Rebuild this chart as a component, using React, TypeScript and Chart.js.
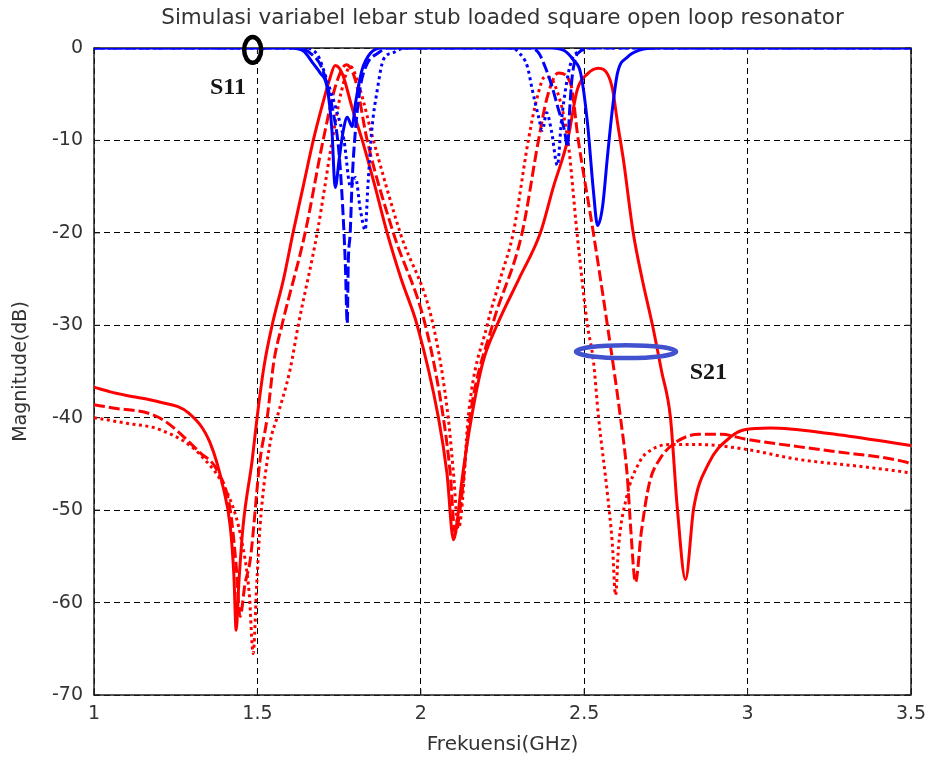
import React, { useEffect, useRef } from 'react';
import { Chart, registerables } from 'chart.js';

Chart.register(...registerables);

// ---------- text ----------
const chartTitle = 'Simulasi variabel lebar stub loaded square open loop resonator';
const xAxisTitle = 'Frekuensi(GHz)';
const yAxisTitle = 'Magnitude(dB)';
const s11Label = 'S11';
const s21Label = 'S21';

// ---------- ticks ----------
const xTickValues = [1, 1.5, 2, 2.5, 3, 3.5];
const yTickValues = [-70, -60, -50, -40, -30, -20, -10, 0];

// ---------- S21 (red) ----------
const s21SolidFreq = [1.0, 1.05, 1.1, 1.2, 1.29, 1.355, 1.395, 1.417, 1.428, 1.435, 1.443, 1.456, 1.484, 1.499, 1.52, 1.545, 1.58, 1.609, 1.64, 1.671, 1.7, 1.72, 1.738, 1.76, 1.79, 1.821, 1.86, 1.897, 1.94, 1.989, 2.054, 2.08, 2.1, 2.112, 2.125, 2.155, 2.19, 2.233, 2.3, 2.366, 2.406, 2.449, 2.479, 2.51, 2.544, 2.571, 2.587, 2.602, 2.62, 2.65, 2.678, 2.709, 2.737, 2.764, 2.785, 2.81, 2.835, 2.88, 2.951, 2.99, 3.07, 3.25, 3.48, 3.5];
const s21SolidDb = [-36.7, -37.2, -37.6, -38.3, -39.5, -42.7, -47.5, -51.8, -57, -63, -58, -51.8, -44.6, -40, -34.5, -30, -25, -20, -15, -10, -6, -3.5, -1.9, -2.8, -6.5, -10, -15, -20, -25, -30, -40, -46, -53.2, -51, -47, -40, -34, -30, -25, -20, -15, -10, -4.5, -2.8, -2.2, -2.8, -4.5, -8.1, -12.1, -20, -25.1, -30, -35, -40, -49.8, -57.5, -49.8, -45, -42, -41.3, -41.1, -41.7, -42.9, -43];

const s21DashedFreq = [1.0, 1.05, 1.2, 1.325, 1.377, 1.417, 1.435, 1.447, 1.462, 1.478, 1.508, 1.53, 1.55, 1.575, 1.646, 1.701, 1.74, 1.772, 1.8, 1.836, 1.916, 2.014, 2.069, 2.09, 2.105, 2.12, 2.15, 2.219, 2.31, 2.36, 2.387, 2.421, 2.458, 2.482, 2.528, 2.571, 2.611, 2.632, 2.642, 2.657, 2.675, 2.7, 2.731, 2.779, 2.85, 2.92, 2.991, 3.254, 3.484, 3.5];
const s21DashedDb = [-38.6, -38.9, -40, -43.8, -45.7, -50, -56, -61.5, -58, -55.4, -44.6, -40, -34, -30, -20, -10, -4, -1.8, -3.5, -10, -20, -30, -40, -46, -52.5, -50, -40, -30, -20, -10, -5.3, -2.7, -3.8, -10, -20, -30, -40, -46.4, -51.8, -57.8, -52.3, -47, -44.5, -42.7, -41.8, -41.8, -42.3, -43.6, -44.8, -45];

const s21DottedFreq = [1.0, 1.1, 1.202, 1.325, 1.417, 1.45, 1.475, 1.487, 1.498, 1.508, 1.539, 1.56, 1.6, 1.625, 1.683, 1.729, 1.755, 1.785, 1.81, 1.855, 1.937, 2.038, 2.084, 2.1, 2.115, 2.125, 2.145, 2.203, 2.243, 2.283, 2.329, 2.355, 2.38, 2.41, 2.45, 2.478, 2.51, 2.528, 2.544, 2.571, 2.586, 2.596, 2.605, 2.629, 2.669, 2.709, 2.761, 2.85, 2.991, 3.153, 3.352, 3.484, 3.5];
const s21DottedDb = [-40, -40.6, -41.3, -44, -48.9, -53, -59, -65.5, -58, -51.8, -42.7, -40, -34.8, -30, -20, -10, -5, -2.0, -4, -10, -20, -30, -40, -46, -52, -50, -40, -30, -25, -20, -10, -5.5, -3.1, -4, -10, -20, -30, -33.8, -40, -48.2, -53.6, -59.2, -54, -48.7, -44.8, -43.4, -42.9, -42.9, -43.4, -44.5, -45.3, -45.9, -46];

// ---------- S11 (blue) ----------
const s11SolidFreq = [1.0, 1.6, 1.64, 1.671, 1.692, 1.713, 1.728, 1.738, 1.751, 1.763, 1.775, 1.79, 1.8, 1.82, 1.845, 1.88, 2.4, 2.44, 2.467, 2.489, 2.51, 2.528, 2.541, 2.556, 2.571, 2.587, 2.602, 2.632, 2.672, 2.72, 3.5];
const s11SolidDb = [0, 0, -0.3, -1.7, -2.7, -4.2, -8.9, -15.1, -11.8, -8.9, -7.5, -8.5, -6, -2.4, -0.6, 0, 0, -0.3, -1.3, -2.7, -8.1, -15.4, -19.2, -17.2, -11.8, -6.4, -2.7, -1, -0.2, 0, 0];

const s11DashedFreq = [1.0, 1.62, 1.66, 1.7, 1.732, 1.748, 1.759, 1.769, 1.775, 1.778, 1.784, 1.79, 1.8, 1.815, 1.836, 1.867, 1.9, 2.33, 2.36, 2.38, 2.4, 2.42, 2.44, 2.449, 2.455, 2.462, 2.48, 2.53, 3.5];
const s11DashedDb = [0, 0, -0.5, -2.4, -7, -10.7, -16, -23.3, -29.8, -23.3, -20, -14.3, -8.9, -4.2, -1.7, -0.6, 0, 0, -0.5, -2, -4, -6.5, -9, -10.7, -7, -3.5, -0.6, 0, 0];

const s11DottedFreq = [1.0, 1.64, 1.683, 1.713, 1.74, 1.765, 1.785, 1.8, 1.815, 1.83, 1.838, 1.85, 1.867, 1.885, 1.916, 1.95, 2.28, 2.3, 2.326, 2.341, 2.36, 2.372, 2.385, 2.4, 2.418, 2.43, 2.445, 2.46, 2.48, 2.51, 3.5];
const s11DottedDb = [0, 0, -0.7, -3.5, -6.5, -10, -15, -14, -17.5, -19.7, -15, -8.9, -4.5, -1.3, -0.5, 0, 0, -0.5, -2, -4.5, -7.4, -8.9, -7, -9, -12.7, -8, -4, -1.5, -0.4, 0, 0];

// ---------- annotation anchors (data coordinates) ----------
const s11MarkAt = { x: 1.4855, y: -0.2 };
const s11TextAt = { x: 1.41, y: -4.3 };
const s21MarkAt = { x: 2.628, y: -32.85 };
const s21TextAt = { x: 2.88, y: -35.1 };

const RED = '#ff0000';
const BLUE = '#0000ff';
const DASH = [11, 4];
const DOT = [3, 3.5];
const FONT = "'DejaVu Sans', 'Liberation Sans', Arial, sans-serif";
const SERIF = "'Liberation Serif', 'Times New Roman', serif";

const toPoints = (f: number[], d: number[]) => f.map((x, i) => ({ x, y: d[i] }));

const framePlugin = {
  id: 'frame',
  beforeDatasetsDraw(chart: any) {
    const { ctx, chartArea: a, scales } = chart;
    ctx.save();
    ctx.strokeStyle = '#1e1e1e';
    ctx.lineWidth = 1.5;
    ctx.setLineDash([]);
    ctx.strokeRect(a.left, a.top, a.right - a.left, a.bottom - a.top);
    ctx.lineWidth = 1;
    const tl = 6;
    ctx.beginPath();
    xTickValues.forEach((v) => {
      const px = scales.x.getPixelForValue(v);
      ctx.moveTo(px, a.bottom); ctx.lineTo(px, a.bottom - tl);
      ctx.moveTo(px, a.top); ctx.lineTo(px, a.top + tl);
    });
    yTickValues.forEach((v) => {
      const py = scales.y.getPixelForValue(v);
      ctx.moveTo(a.left, py); ctx.lineTo(a.left + tl, py);
      ctx.moveTo(a.right, py); ctx.lineTo(a.right - tl, py);
    });
    ctx.stroke();
    ctx.restore();
  },
};

const markPlugin = {
  id: 'marks',
  afterDatasetsDraw(chart: any) {
    const { ctx, scales } = chart;
    const X = (v: number) => scales.x.getPixelForValue(v);
    const Y = (v: number) => scales.y.getPixelForValue(v);
    ctx.save();
    ctx.setLineDash([]);
    ctx.strokeStyle = '#000000';
    ctx.lineWidth = 4.5;
    ctx.beginPath();
    ctx.ellipse(X(s11MarkAt.x), Y(s11MarkAt.y), 8.5, 12.8, 0, 0, Math.PI * 2);
    ctx.stroke();
    ctx.strokeStyle = 'rgb(66,82,206)';
    ctx.lineWidth = 4.5;
    ctx.beginPath();
    ctx.ellipse(X(s21MarkAt.x), Y(s21MarkAt.y), 50, 6.4, 0, 0, Math.PI * 2);
    ctx.stroke();
    ctx.fillStyle = '#161616';
    ctx.font = `bold 24px ${SERIF}`;
    ctx.textAlign = 'center';
    ctx.textBaseline = 'middle';
    ctx.fillText(s11Label, X(s11TextAt.x), Y(s11TextAt.y));
    ctx.fillText(s21Label, X(s21TextAt.x), Y(s21TextAt.y));
    ctx.restore();
  },
};

export default function App() {
  const canvasRef = useRef<HTMLCanvasElement | null>(null);

  useEffect(() => {
    const canvas = canvasRef.current;
    if (!canvas) return;
    const line = (label: string, f: number[], d: number[], color: string, dash: number[]) => ({
      label,
      data: toPoints(f, d),
      borderColor: color,
      backgroundColor: color,
      borderWidth: 3,
      borderDash: dash,
      pointRadius: 0,
      fill: false,
      cubicInterpolationMode: 'monotone' as const,
    });
    const chart = new Chart(canvas, {
      type: 'line',
      data: {
        datasets: [
          line('S11 solid', s11SolidFreq, s11SolidDb, BLUE, []),
          line('S11 dashed', s11DashedFreq, s11DashedDb, BLUE, DASH),
          line('S11 dotted', s11DottedFreq, s11DottedDb, BLUE, DOT),
          line('S21 solid', s21SolidFreq, s21SolidDb, RED, []),
          line('S21 dashed', s21DashedFreq, s21DashedDb, RED, DASH),
          line('S21 dotted', s21DottedFreq, s21DottedDb, RED, DOT),
        ],
      },
      options: {
        responsive: false,
        animation: false,
        events: [],
        layout: { padding: { left: 0, right: 17, top: 0, bottom: 0 } },
        plugins: {
          legend: { display: false },
          tooltip: { enabled: false },
          title: {
            display: true,
            text: chartTitle,
            fullSize: false,
            color: '#333333',
            font: { family: FONT, size: 21.5, weight: 'normal' },
            padding: { top: 5.6, bottom: 16.6 },
          },
        },
        scales: {
          x: {
            type: 'linear',
            min: 1,
            max: 3.5,
            afterBuildTicks: (s: any) => { s.ticks = xTickValues.map((v) => ({ value: v })); },
            afterFit: (s: any) => { s.height = 63; s.paddingLeft = 0; s.paddingRight = 0; },
            ticks: {
              autoSkip: false,
              maxRotation: 0,
              padding: 8,
              color: '#333333',
              font: { family: FONT, size: 19 },
              callback: (v: any) => String(v),
            },
            grid: { color: '#000000', lineWidth: 1, drawTicks: false },
            border: { display: false, dash: [6, 4] },
            title: {
              display: true,
              text: xAxisTitle,
              color: '#333333',
              font: { family: FONT, size: 20 },
              padding: { top: 0, bottom: 1 },
            },
          },
          y: {
            type: 'linear',
            min: -70,
            max: 0,
            afterBuildTicks: (s: any) => { s.ticks = yTickValues.map((v) => ({ value: v })); },
            afterFit: (s: any) => { s.width = 94; s.paddingTop = 0; s.paddingBottom = 0; },
            ticks: {
              autoSkip: false,
              padding: 11,
              color: '#333333',
              font: { family: FONT, size: 19 },
              callback: (v: any) => String(v),
            },
            grid: { color: '#000000', lineWidth: 1, drawTicks: false },
            border: { display: false, dash: [6, 4] },
            title: {
              display: true,
              text: yAxisTitle,
              color: '#333333',
              font: { family: FONT, size: 19 },
              padding: { top: 10, bottom: 0 },
            },
          },
        },
      },
      plugins: [framePlugin, markPlugin],
    });
    return () => chart.destroy();
  }, []);

  return (
    <div style={{ position: 'fixed', left: 0, top: 0, width: 928, height: 758, background: '#ffffff' }}>
      <canvas ref={canvasRef} width={928} height={758} style={{ display: 'block' }} />
    </div>
  );
}
